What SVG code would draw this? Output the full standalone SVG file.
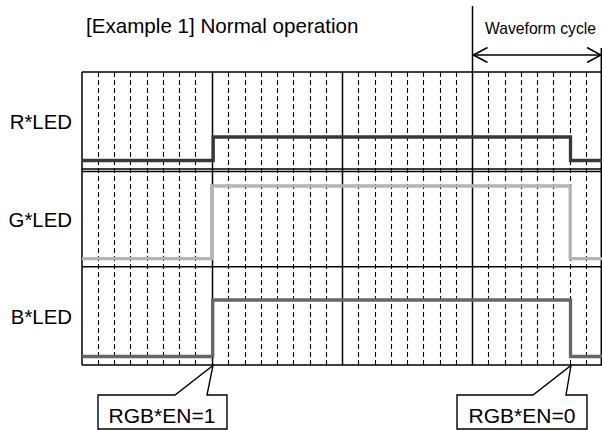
<svg xmlns="http://www.w3.org/2000/svg" width="602" height="430" viewBox="0 0 602 430">
  <style>
    .txt { font-family: "Liberation Sans", Arial, sans-serif; fill: #000; }
    .dash { stroke: #000; stroke-width: 1.1; stroke-dasharray: 5 3; fill: none; }
    .grid { stroke: #000; stroke-width: 1.5; fill: none; }
    .wave { stroke-width: 3.3; fill: none; stroke-linejoin: miter; }
    .callout { fill: #fff; stroke: #000; stroke-width: 1.4; }
  </style>
  <defs>
    <marker id="openArrow" viewBox="0 0 16 16" refX="15" refY="8" markerWidth="16" markerHeight="16" markerUnits="userSpaceOnUse" orient="auto-start-reverse">
      <path d="M1,0.5 L15,8 L1,15.5" fill="none" stroke="#000" stroke-width="1.6"/>
    </marker>
  </defs>
  <rect width="602" height="430" fill="#fff"/>

  <g id="title">
    <text class="txt" x="86" y="33" font-size="20.6">[Example 1] Normal operation</text>
  </g>

  <g id="grid">
    <path class="dash" d="M98.5,72V365 M114.5,72V365 M130.5,72V365 M147.5,72V365 M163.5,72V365 M179.5,72V365 M195.5,72V365
      M228.5,72V365 M245.5,72V365 M261.5,72V365 M277.5,72V365 M293.5,72V365 M310.5,72V365 M326.5,72V365
      M358.5,72V365 M375.5,72V365 M391.5,72V365 M407.5,72V365 M423.5,72V365 M440.5,72V365 M456.5,72V365
      M488.5,72V365 M505.5,72V365 M521.5,72V365 M537.5,72V365 M553.5,72V365 M570.5,72V365 M586.5,72V365"/>
    <path class="grid" d="M82,72H602 M82,169H602 M82,171.5H602 M82,266.7H602 M82,365H602
      M82,72V365 M212.5,72V365 M342.5,72V365 M472.5,6V365 M601.3,48V365"/>
  </g>

  <g id="label-r"><text class="txt" x="72" y="129" font-size="20.4" text-anchor="end">R*LED</text></g>
  <g id="label-g"><text class="txt" x="72" y="227" font-size="20.4" text-anchor="end">G*LED</text></g>
  <g id="label-b"><text class="txt" x="72" y="324" font-size="20.4" text-anchor="end">B*LED</text></g>

  <g id="wave-r"><path class="wave" stroke="#383838" d="M82,160.5H213.2V137H570.5V160.5H602"/></g>
  <g id="wave-g"><path class="wave" stroke="#b4b4b4" d="M82,258.7H211.7V186H570.2V258.7H602"/></g>
  <g id="wave-b"><path class="wave" stroke="#666" d="M82,356.5H212.7V300H570.5V356.5H602"/></g>

  <g id="connectors">
    <path d="M473.5,55H601" stroke="#000" stroke-width="1.5" fill="none" marker-start="url(#openArrow)" marker-end="url(#openArrow)"/>
  </g>

  <g id="cycle-label">
    <text class="txt" x="485" y="34" font-size="15.7">Waveform cycle</text>
  </g>

  <g id="callout-en1">
    <polygon class="callout" points="98,395 175,395 213,365.5 207,395 227,395 227,429 98,429"/>
    <text class="txt" x="162" y="423" font-size="21" text-anchor="middle">RGB*EN=1</text>
  </g>
  <g id="callout-en0">
    <polygon class="callout" points="457,395 533,395 571,365.5 566,395 587,395 587,429 457,429"/>
    <text class="txt" x="522" y="423" font-size="21" text-anchor="middle">RGB*EN=0</text>
  </g>
</svg>
